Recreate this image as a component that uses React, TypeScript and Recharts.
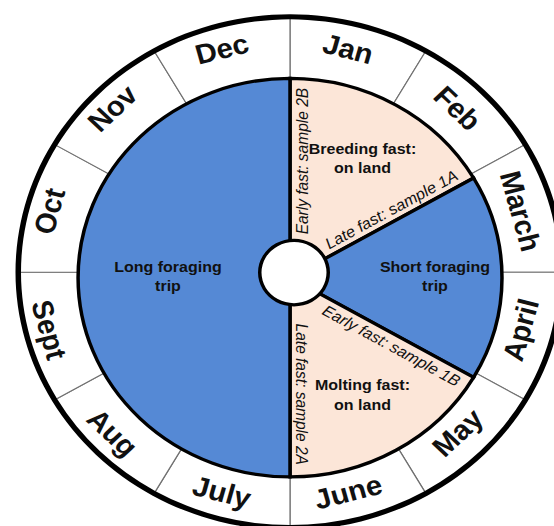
import { PieChart, Pie, Cell } from "recharts";

// months around the outer ring, Jan starting at 12 o'clock
const months = ["Jan", "Feb", "March", "April", "May", "June", "July", "Aug", "Sept", "Oct", "Nov", "Dec"];
const monthSpan = [1, 1, 1, 1, 1, 1, 1, 1, 1, 1, 1, 1];

// annual cycle phases (span in months)
const phases = ["Breeding fast:|on land", "Short foraging|trip", "Molting fast:|on land", "Long foraging|trip"];
const phaseMonths = [2, 2, 2, 6];
// sampling notes along the start / end edge of each phase
const startNotes = ["Early fast: sample 2B", "", "Early fast: sample 1B", ""];
const endNotes = ["Late fast: sample 1A", "", "Late fast: sample 2A", ""];

const BLUE = "#5589d5";
const PEACH = "#fce6d8";
const phaseColors = [PEACH, BLUE, PEACH, BLUE];

const FONT = "'Liberation Sans', Arial, sans-serif";
const RAD = Math.PI / 180;

const W = 554;
const H = 560;
const SQUASH = 0.94;
const RING_CX = 285;
const RING_CY = 284.6;
const PIE_CX = 285;
const PIE_CY = 290.4;
const PIE_R = 212;
const RING_R = 272;
const MONTH_CY = 287.7;
const MONTH_R = 244;

function MonthLabel(props: any) {
  const { midAngle, index } = props;
  const theta = 90 - midAngle; // clockwise from top
  const x = PIE_CX + MONTH_R * Math.sin(theta * RAD);
  const y = MONTH_CY - MONTH_R * Math.cos(theta * RAD);
  let rot = ((theta + 180) % 360 + 360) % 360 - 180;
  if (rot > 90) rot -= 180;
  if (rot < -90) rot += 180;
  return (
    <text
      key={`m-${index}`}
      x={x}
      y={y}
      transform={`rotate(${rot} ${x} ${y})`}
      textAnchor="middle"
      dominantBaseline="central"
      fontFamily={FONT}
      fontWeight="bold"
      fontSize={29.5}
      fill="#111"
    >
      {months[index]}
    </text>
  );
}

function edgeNote(text: string, cx: number, cy: number, a: number, side: number, key: string) {
  const along = 124;
  const off = 12;
  const n = a + side * 90;
  const x = cx + along * Math.cos(a * RAD) + off * Math.cos(n * RAD);
  const y = cy - along * Math.sin(a * RAD) - off * Math.sin(n * RAD);
  return (
    <text
      key={key}
      x={x}
      y={y}
      transform={`rotate(${-a} ${x} ${y})`}
      textAnchor="middle"
      dominantBaseline="central"
      fontFamily={FONT}
      fontStyle="italic"
      fontSize={16.5}
      fill="#111"
    >
      {text}
    </text>
  );
}

function PhaseLabel(props: any) {
  const { cx, cy, midAngle, startAngle, endAngle, index } = props;
  const big = Math.abs(startAngle - endAngle) > 90;
  const r = big ? 122 : 145;
  const x = cx + r * Math.cos(midAngle * RAD);
  const y = cy - r * Math.sin(midAngle * RAD);
  const lines = phases[index].split("|");
  return (
    <g key={`p-${index}`}>
      <text
        x={x}
        y={y - 12}
        textAnchor="middle"
        dominantBaseline="central"
        fontFamily={FONT}
        fontWeight="bold"
        fontSize={16}
        fill="#111"
      >
        <tspan x={x} dy={0}>{lines[0]}</tspan>
        <tspan x={x} dy={20.5}>{lines[1]}</tspan>
      </text>
      {startNotes[index] && edgeNote(startNotes[index], cx, cy, startAngle, -1, `s-${index}`)}
      {endNotes[index] && edgeNote(endNotes[index], cx, cy, endAngle, 1, `e-${index}`)}
    </g>
  );
}

export default function App() {
  const ringData = months.map((m, i) => ({ name: m, value: monthSpan[i] }));
  const phaseData = phases.map((p, i) => ({ name: p, value: phaseMonths[i] }));
  const whole = [{ name: "year", value: 1 }];

  return (
    <div style={{ position: "absolute", left: 0, top: 0, width: W, height: 526, overflow: "hidden", background: "#fff" }}>
      <div style={{ transform: `scaleY(${SQUASH})`, transformOrigin: "0 0" }}>
        <PieChart width={W} height={H}>
          <Pie
            data={ringData}
            dataKey="value"
            nameKey="name"
            cx={RING_CX}
            cy={RING_CY}
            innerRadius={0}
            outerRadius={RING_R}
            startAngle={90}
            endAngle={-270}
            fill="#fff"
            stroke="#707070"
            strokeWidth={1.2}
            label={MonthLabel}
            labelLine={false}
            isAnimationActive={false}
          />
          <Pie
            data={whole}
            dataKey="value"
            cx={RING_CX}
            cy={RING_CY}
            innerRadius={269}
            outerRadius={274.5}
            startAngle={90}
            endAngle={-270}
            fill="#000"
            stroke="none"
            isAnimationActive={false}
          />
          <Pie
            data={phaseData}
            dataKey="value"
            nameKey="name"
            cx={PIE_CX}
            cy={PIE_CY}
            innerRadius={0}
            outerRadius={PIE_R}
            startAngle={90}
            endAngle={-270}
            stroke="#000"
            strokeWidth={3.5}
            label={PhaseLabel}
            labelLine={false}
            isAnimationActive={false}
          >
            {phaseData.map((d, i) => (
              <Cell key={d.name} fill={phaseColors[i]} />
            ))}
          </Pie>
          {/* centre hole: black rim under a white disc */}
          <Pie
            data={whole}
            dataKey="value"
            cx={289}
            cy={285}
            innerRadius={0}
            outerRadius={36}
            startAngle={90}
            endAngle={-270}
            fill="#000"
            stroke="none"
            isAnimationActive={false}
          />
          <Pie
            data={whole}
            dataKey="value"
            cx={289}
            cy={285}
            innerRadius={0}
            outerRadius={32.5}
            startAngle={90}
            endAngle={-270}
            fill="#fff"
            stroke="none"
            isAnimationActive={false}
          />
        </PieChart>
      </div>
    </div>
  );
}
